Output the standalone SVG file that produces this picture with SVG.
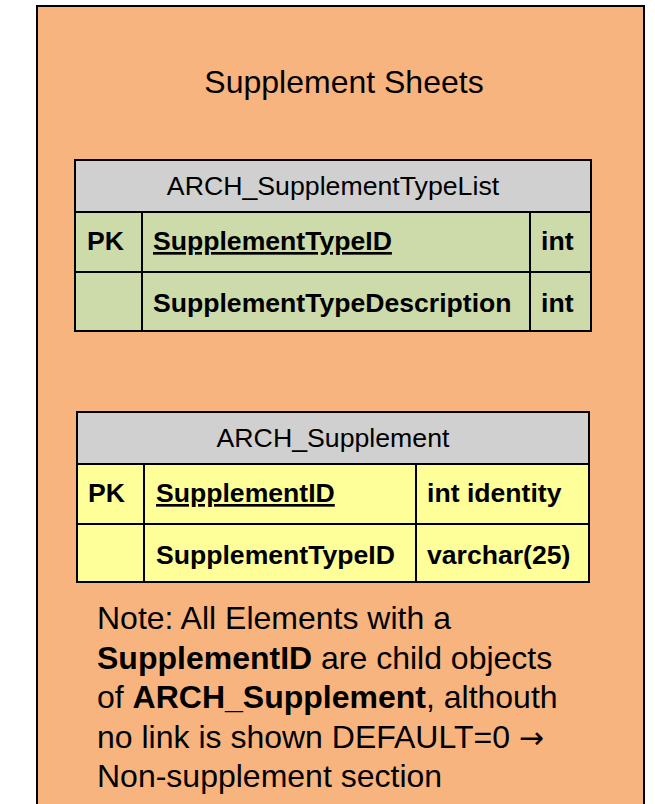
<svg xmlns="http://www.w3.org/2000/svg" width="655" height="804" viewBox="0 0 655 804">
<style>
text{font-family:"Liberation Sans",Arial,sans-serif;fill:#000}
.hdr{font-size:26.7px;text-anchor:middle}
.cell{font-size:26.6px;font-weight:bold}
.ln{fill:none;stroke:#000;stroke-width:2}
.note{font-size:32px}
</style>
<rect x="37" y="6" width="607" height="810" fill="#F8B47E" stroke="#000" stroke-width="2"/>
<text x="344" y="93" font-size="32" text-anchor="middle">Supplement Sheets</text>
<g id="ARCH_SupplementTypeList">
<rect x="75" y="160" width="516" height="52" fill="#D0D0D0"/>
<rect x="75" y="212" width="516" height="119" fill="#CCDBA9"/>
<rect x="75" y="160" width="516" height="171" class="ln"/>
<line x1="75" y1="212" x2="591" y2="212" class="ln"/>
<line x1="75" y1="272" x2="591" y2="272" class="ln"/>
<line x1="142" y1="212" x2="142" y2="331" class="ln"/>
<line x1="530" y1="212" x2="530" y2="331" class="ln"/>
<text x="333" y="195" class="hdr">ARCH_SupplementTypeList</text>
<text x="87" y="250" class="cell">PK</text>
<text x="153" y="250" class="cell" text-decoration="underline">SupplementTypeID</text>
<text x="541" y="250" class="cell">int</text>
<text x="153" y="312" class="cell">SupplementTypeDescription</text>
<text x="541" y="312" class="cell">int</text>
</g>
<g id="ARCH_Supplement">
<rect x="77" y="412" width="512" height="52" fill="#D0D0D0"/>
<rect x="77" y="464" width="512" height="118" fill="#FFFF99"/>
<rect x="77" y="412" width="512" height="170" class="ln"/>
<line x1="77" y1="464" x2="589" y2="464" class="ln"/>
<line x1="77" y1="524" x2="589" y2="524" class="ln"/>
<line x1="144" y1="464" x2="144" y2="582" class="ln"/>
<line x1="416" y1="464" x2="416" y2="582" class="ln"/>
<text x="333" y="447" class="hdr">ARCH_Supplement</text>
<text x="88" y="502" class="cell">PK</text>
<text x="156" y="502" class="cell" text-decoration="underline">SupplementID</text>
<text x="427" y="502" class="cell">int identity</text>
<text x="156" y="564" class="cell">SupplementTypeID</text>
<text x="427" y="564" class="cell">varchar(25)</text>
</g>
<g id="connectors"></g>
<g id="note">
<text x="97" y="629" class="note">Note: All Elements with a</text>
<text x="97" y="668.5" class="note"><tspan font-weight="bold">SupplementID</tspan> are child objects</text>
<text x="97" y="708" class="note">of <tspan font-weight="bold">ARCH_Supplement</tspan>, althouth</text>
<text x="97" y="747.5" class="note">no link is shown DEFAULT=0 <tspan font-family="DejaVu Sans" font-size="30">→</tspan></text>
<text x="97" y="787" class="note">Non-supplement section</text>
</g>
</svg>
